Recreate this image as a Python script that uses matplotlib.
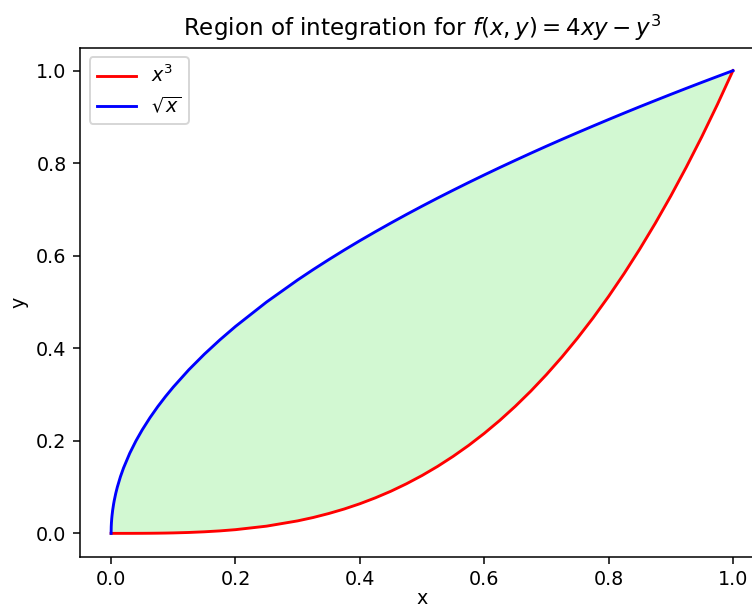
import matplotlib
matplotlib.use("Agg")
import matplotlib.pyplot as plt

# sample points
x_vals = [0, 0.0002, 0.0005, 0.001, 0.0015, 0.0025, 0.004, 0.005, 0.0075, 0.01,
          0.015, 0.02, 0.03, 0.04, 0.05, 0.0625, 0.075, 0.0875, 0.1, 0.125,
          0.15, 0.175, 0.2, 0.25, 0.3, 0.325, 0.35, 0.375, 0.4, 0.425,
          0.45, 0.475, 0.5, 0.525, 0.55, 0.575, 0.6, 0.625, 0.65, 0.675,
          0.7, 0.725, 0.75, 0.775, 0.8, 0.825, 0.85, 0.875, 0.9, 0.925,
          0.95, 0.975, 1.0]
cube_vals = [0, 0, 0, 0, 0, 0, 0, 0, 0, 0.000001,
             0.0000034, 0.000008, 0.000027, 0.000064, 0.000125, 0.000244, 0.00042, 0.00067, 0.001, 0.00195,
             0.0034, 0.00536, 0.008, 0.0156, 0.027, 0.0343, 0.0429, 0.0527, 0.064, 0.0768,
             0.0911, 0.1072, 0.125, 0.1447, 0.1664, 0.1901, 0.216, 0.2441, 0.2746, 0.3075,
             0.343, 0.3811, 0.4219, 0.4655, 0.512, 0.5615, 0.6141, 0.6699, 0.729, 0.7915,
             0.8574, 0.9269, 1.0]
sqrt_vals = [0, 0.0141, 0.0224, 0.0316, 0.0387, 0.05, 0.0632, 0.0707, 0.0866, 0.1,
             0.1225, 0.1414, 0.1732, 0.2, 0.2236, 0.25, 0.2739, 0.2958, 0.3162, 0.3536,
             0.3873, 0.4183, 0.4472, 0.5, 0.5477, 0.5701, 0.5916, 0.6124, 0.6325, 0.6519,
             0.6708, 0.6892, 0.7071, 0.7246, 0.7416, 0.7583, 0.7746, 0.7906, 0.8062, 0.8216,
             0.8367, 0.8515, 0.866, 0.8803, 0.8944, 0.9083, 0.922, 0.9354, 0.9487, 0.9618,
             0.9747, 0.9874, 1.0]

title = r"Region of integration for $f(x,y) = 4xy - y^3$"

dpi = 138
fig = plt.figure(figsize=(752 / dpi, 610 / dpi), dpi=dpi)
ax = fig.add_axes([0.1064, 0.0877, 0.9096, 0.8344])

ax.fill_between(x_vals, cube_vals, sqrt_vals, color="lightgreen", alpha=0.4, linewidth=0)
ax.plot(x_vals, cube_vals, color="red", label=r"$x^3$")
ax.plot(x_vals, sqrt_vals, color="blue", label=r"$\sqrt{x}$")

ax.set_title(title)
ax.set_xlabel("x", labelpad=0)
ax.set_ylabel("y")
ax.legend(loc="upper left")

fig.savefig("out.png", dpi=dpi)
